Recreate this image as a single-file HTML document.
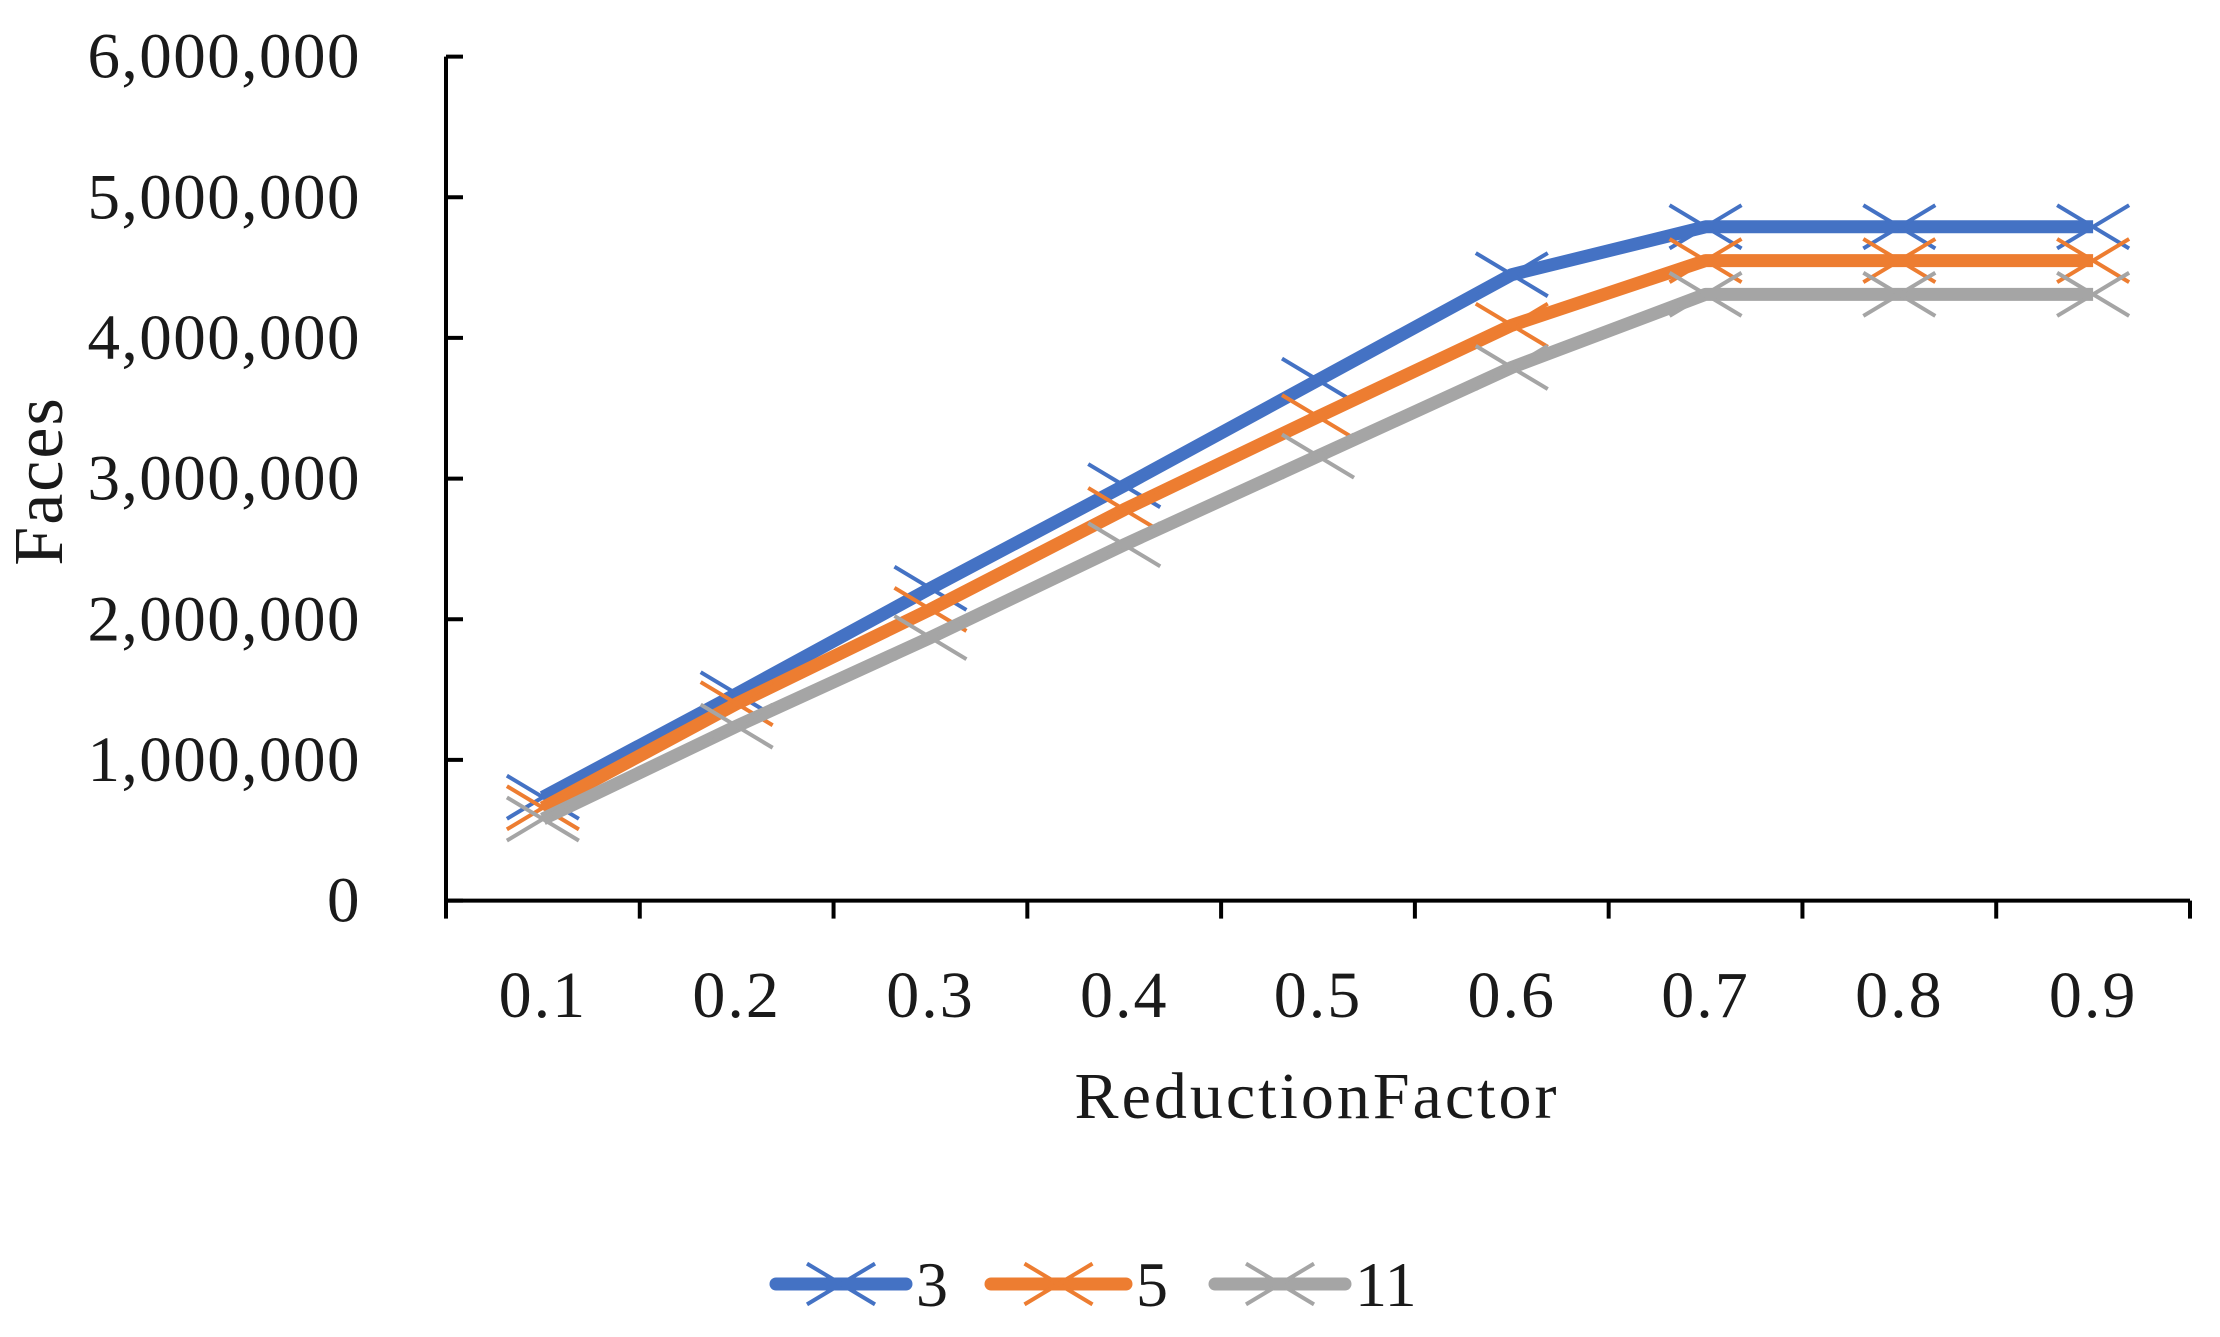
<!DOCTYPE html>
<html><head><meta charset="utf-8">
<style>
html,body{margin:0;padding:0;background:#fff;}
svg{display:block;}
text{font-family:"Liberation Serif",serif;fill:#1a1a1a;}
</style></head>
<body>
<svg id="chart" width="2220" height="1337" viewBox="0 0 2220 1337" xmlns="http://www.w3.org/2000/svg">
<g id="axes"></g>
<g id="series"></g>
<g id="legend"></g>
<text x="0" y="0" transform="translate(62,481) rotate(-90)" text-anchor="middle" font-size="70" letter-spacing="2">Faces</text>
<text x="1317" y="1118" text-anchor="middle" font-size="66" letter-spacing="3">ReductionFactor</text>
</svg>
<script>
const categories = ["0.1","0.2","0.3","0.4","0.5","0.6","0.7","0.8","0.9"];
const yTicks = [0,1000000,2000000,3000000,4000000,5000000,6000000];
const yTickLabels = ["0","1,000,000","2,000,000","3,000,000","4,000,000","5,000,000","6,000,000"];
const seriesNames = ["3","5","11"];
const seriesColors = ["#4472C4","#ED7D31","#A5A5A5"];
const values3 = [735000,1470000,2220000,2950000,3700000,4450000,4790000,4790000,4790000];
const values5 = [660000,1400000,2070000,2780000,3440000,4090000,4550000,4550000,4550000];
const values11 = [580000,1240000,1870000,2530000,3160000,3790000,4310000,4310000,4310000];
const allSeries = [values3, values5, values11];

const NS = "http://www.w3.org/2000/svg";
const X0 = 446, X1 = 2190, Y0 = 900.6, Y1 = 56.6, YMAX = 6000000;
const band = (X1 - X0) / categories.length;
function xPos(i){ return X0 + band * (i + 0.5); }
function yPos(v){ return Y0 - (v / YMAX) * (Y0 - Y1); }
function mk(tag, attrs, parent){ const e = document.createElementNS(NS, tag); for (const k in attrs) e.setAttribute(k, attrs[k]); parent.appendChild(e); return e; }

const axes = document.getElementById('axes');
let l = mk('line', {x1:X0, y1:Y1, x2:X0, y2:Y0, stroke:'#000', 'stroke-width':4}, axes);


l = mk('line', {x1:X0-2, y1:Y0, x2:X1, y2:Y0, stroke:'#000', 'stroke-width':4}, axes);


yTicks.forEach((v, i) => {
  const y = yPos(v);
  const t = mk('line', {x1:X0, y1:y, x2:X0+17, y2:y, stroke:'#000', 'stroke-width':4}, axes);
  
  
  const tx = mk('text', {x:361, y:y+21, 'text-anchor':'end', 'font-size':65, 'letter-spacing':1.5}, axes);
  tx.textContent = yTickLabels[i];
  
  
});
for (let i = 0; i <= categories.length; i++) {
  const x = X0 + band * i;
  const t = mk('line', {x1:x, y1:Y0, x2:x, y2:Y0+18, stroke:'#000', 'stroke-width':4}, axes);
  
  
}
categories.forEach((c, i) => {
  const tx = mk('text', {x:xPos(i), y:1017, 'text-anchor':'middle', 'font-size':66, 'letter-spacing':2}, axes);
  tx.textContent = c;
  
  
});

function cross(g, x, y, color, r){
  const p = mk('path', {d:`M${x-r},${y-r*0.6}L${x+r},${y+r*0.6}M${x-r},${y+r*0.6}L${x+r},${y-r*0.6}`, stroke:color, 'stroke-width':4, fill:'none'}, g);
  
  
}
const sg = document.getElementById('series');
allSeries.forEach((vals, s) => {
  const g = mk('g', {}, sg);
  
  
  const pts = vals.map((v, i) => xPos(i) + ',' + yPos(v)).join(' ');
  const pl = mk('polyline', {points:pts, fill:'none', stroke:seriesColors[s], 'stroke-width':13, 'stroke-linejoin':'round'}, g);
  
  
  vals.forEach((v, i) => cross(g, xPos(i), yPos(v), seriesColors[s], 36));
});

const lg = document.getElementById('legend');
const legX = [776, 991, 1215], legW = [130, 135, 130];
seriesNames.forEach((n, s) => {
  const g = mk('g', {}, lg);
  
  
  mk('line', {x1:legX[s], y1:1284, x2:legX[s]+legW[s], y2:1284, stroke:seriesColors[s], 'stroke-width':13, 'stroke-linecap':'round'}, g);
  cross(g, legX[s] + legW[s]/2, 1284, seriesColors[s], 34);
  const t = mk('text', {x:legX[s]+legW[s]+10, y:1306, 'font-size':64}, g);
  t.textContent = n;
  
  
});
</script>
</body></html>
